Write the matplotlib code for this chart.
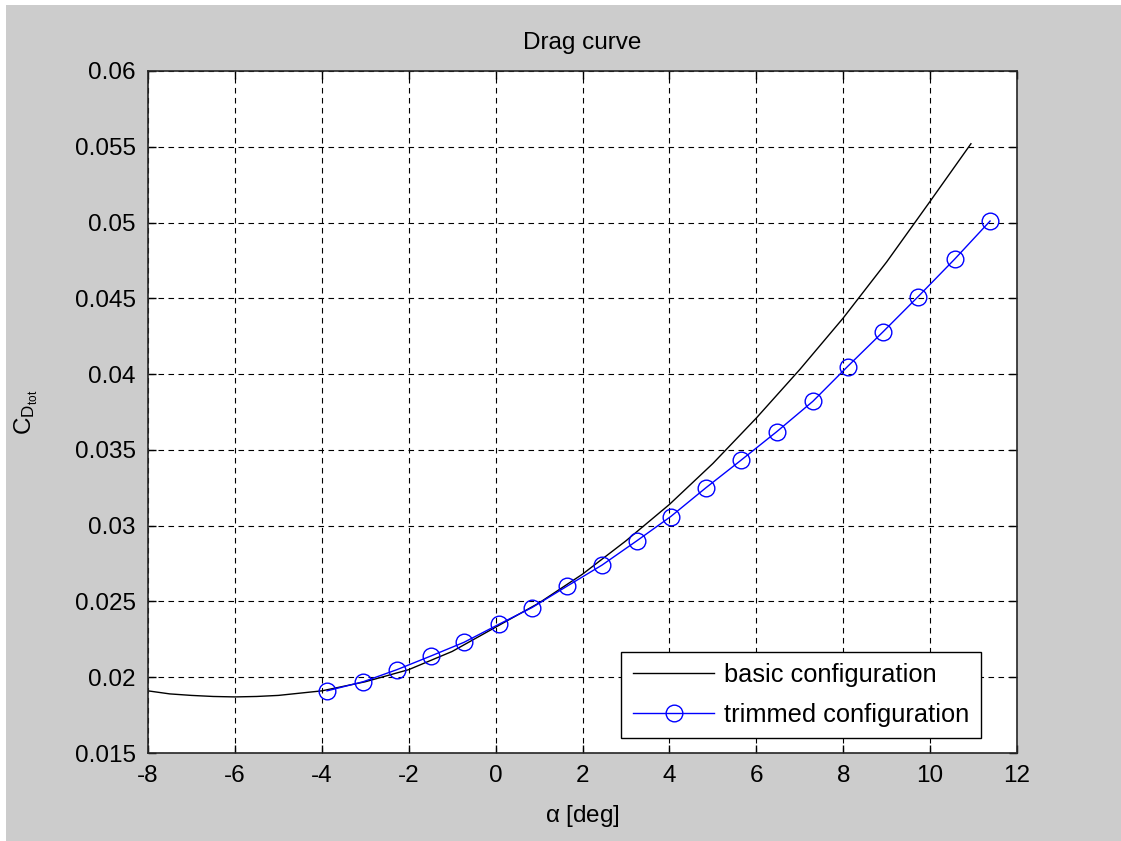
import numpy as np
import matplotlib
matplotlib.use('Agg')
import matplotlib.pyplot as plt
from matplotlib.patches import Rectangle

plt.rcParams['font.family'] = ['Liberation Sans', 'DejaVu Sans']
plt.rcParams['mathtext.fontset'] = 'custom'
plt.rcParams['mathtext.rm'] = 'Liberation Sans'
plt.rcParams['mathtext.it'] = 'Liberation Sans'
plt.rcParams['axes.unicode_minus'] = False

# basic configuration (clean aircraft)
alpha_basic = [-8, -7.5, -7, -6.5, -6, -5.5, -5, -4.5, -4, -3.5, -3, -2.5, -2, -1, 0,
               1, 2, 3, 4, 5, 6, 7, 8, 9, 10, 10.94]
cd_basic = [0.0191, 0.0189, 0.0188, 0.01873, 0.0187, 0.01873, 0.0188, 0.01895, 0.0191,
            0.0194, 0.0197, 0.0201, 0.0205, 0.0217, 0.0233,
            0.0249, 0.0268, 0.0290, 0.0314, 0.0341, 0.0371, 0.0403, 0.0437, 0.0474,
            0.0514, 0.0552]

# trimmed configuration
alpha_trim = [-3.88, -3.05, -2.27, -1.49, -0.73, 0.08, 0.84, 1.64, 2.45, 3.25,
              4.03, 4.84, 5.64, 6.47, 7.30, 8.10, 8.92, 9.72, 10.57, 11.38]
cd_trim = [0.0191, 0.0197, 0.0205, 0.0214, 0.0223, 0.0235, 0.0246, 0.0260, 0.0274, 0.0290,
           0.0306, 0.0325, 0.0343, 0.0362, 0.0382, 0.0405, 0.0428, 0.0451, 0.0476, 0.0501]

fs = 17.5
fig = plt.figure(figsize=(11.21, 8.41), dpi=100, facecolor='white')
fig.patches.append(Rectangle((6/1121, 0), 1, 1 - 5/841, transform=fig.transFigure,
                             facecolor='#cccccc', edgecolor='none', zorder=-10))
ax = fig.add_axes([148/1121, 88/841, 869/1121, 682/841])

ax.plot(alpha_basic, cd_basic, color='black', lw=1.0, label='basic configuration')
ax.plot(alpha_trim, cd_trim, color='blue', lw=1.0, marker='o', ms=12, mfc='none',
        mec='blue', mew=1.0, label='trimmed configuration')

ax.set_xlim(-8, 12)
ax.set_ylim(0.015, 0.06)
ax.set_xticks(np.arange(-8, 13, 2))
ax.set_yticks(np.arange(0.015, 0.0601, 0.005))
ax.set_yticklabels(['0.015', '0.02', '0.025', '0.03', '0.035', '0.04', '0.045',
                    '0.05', '0.055', '0.06'])
ax.grid(True, color='black', lw=0.8, linestyle=(0, (5, 4)))
ax.tick_params(direction='in', length=6, width=1, top=True, right=True,
               labelsize=fs, pad=9)
for s in ax.spines.values():
    s.set_linewidth(1.2)
    s.set_color('#262626')

ax.set_title('Drag curve', fontsize=fs, pad=16)
ax.set_xlabel(r'$\mathregular{\alpha}$ [deg]', fontsize=fs, labelpad=11)
ax.set_ylabel(r'$\mathregular{C_{D_{tot}}}$', fontsize=fs, labelpad=25)

leg = ax.legend(loc='lower right', bbox_to_anchor=(0.9586, 0.022), borderaxespad=0,
                fontsize=18.3, fancybox=False, edgecolor='black', framealpha=1,
                handlelength=3.2, handletextpad=0.4, borderpad=0.45, labelspacing=0.6)
leg.get_frame().set_linewidth(1.0)

fig.savefig('out.png', dpi=100, facecolor=fig.get_facecolor())
